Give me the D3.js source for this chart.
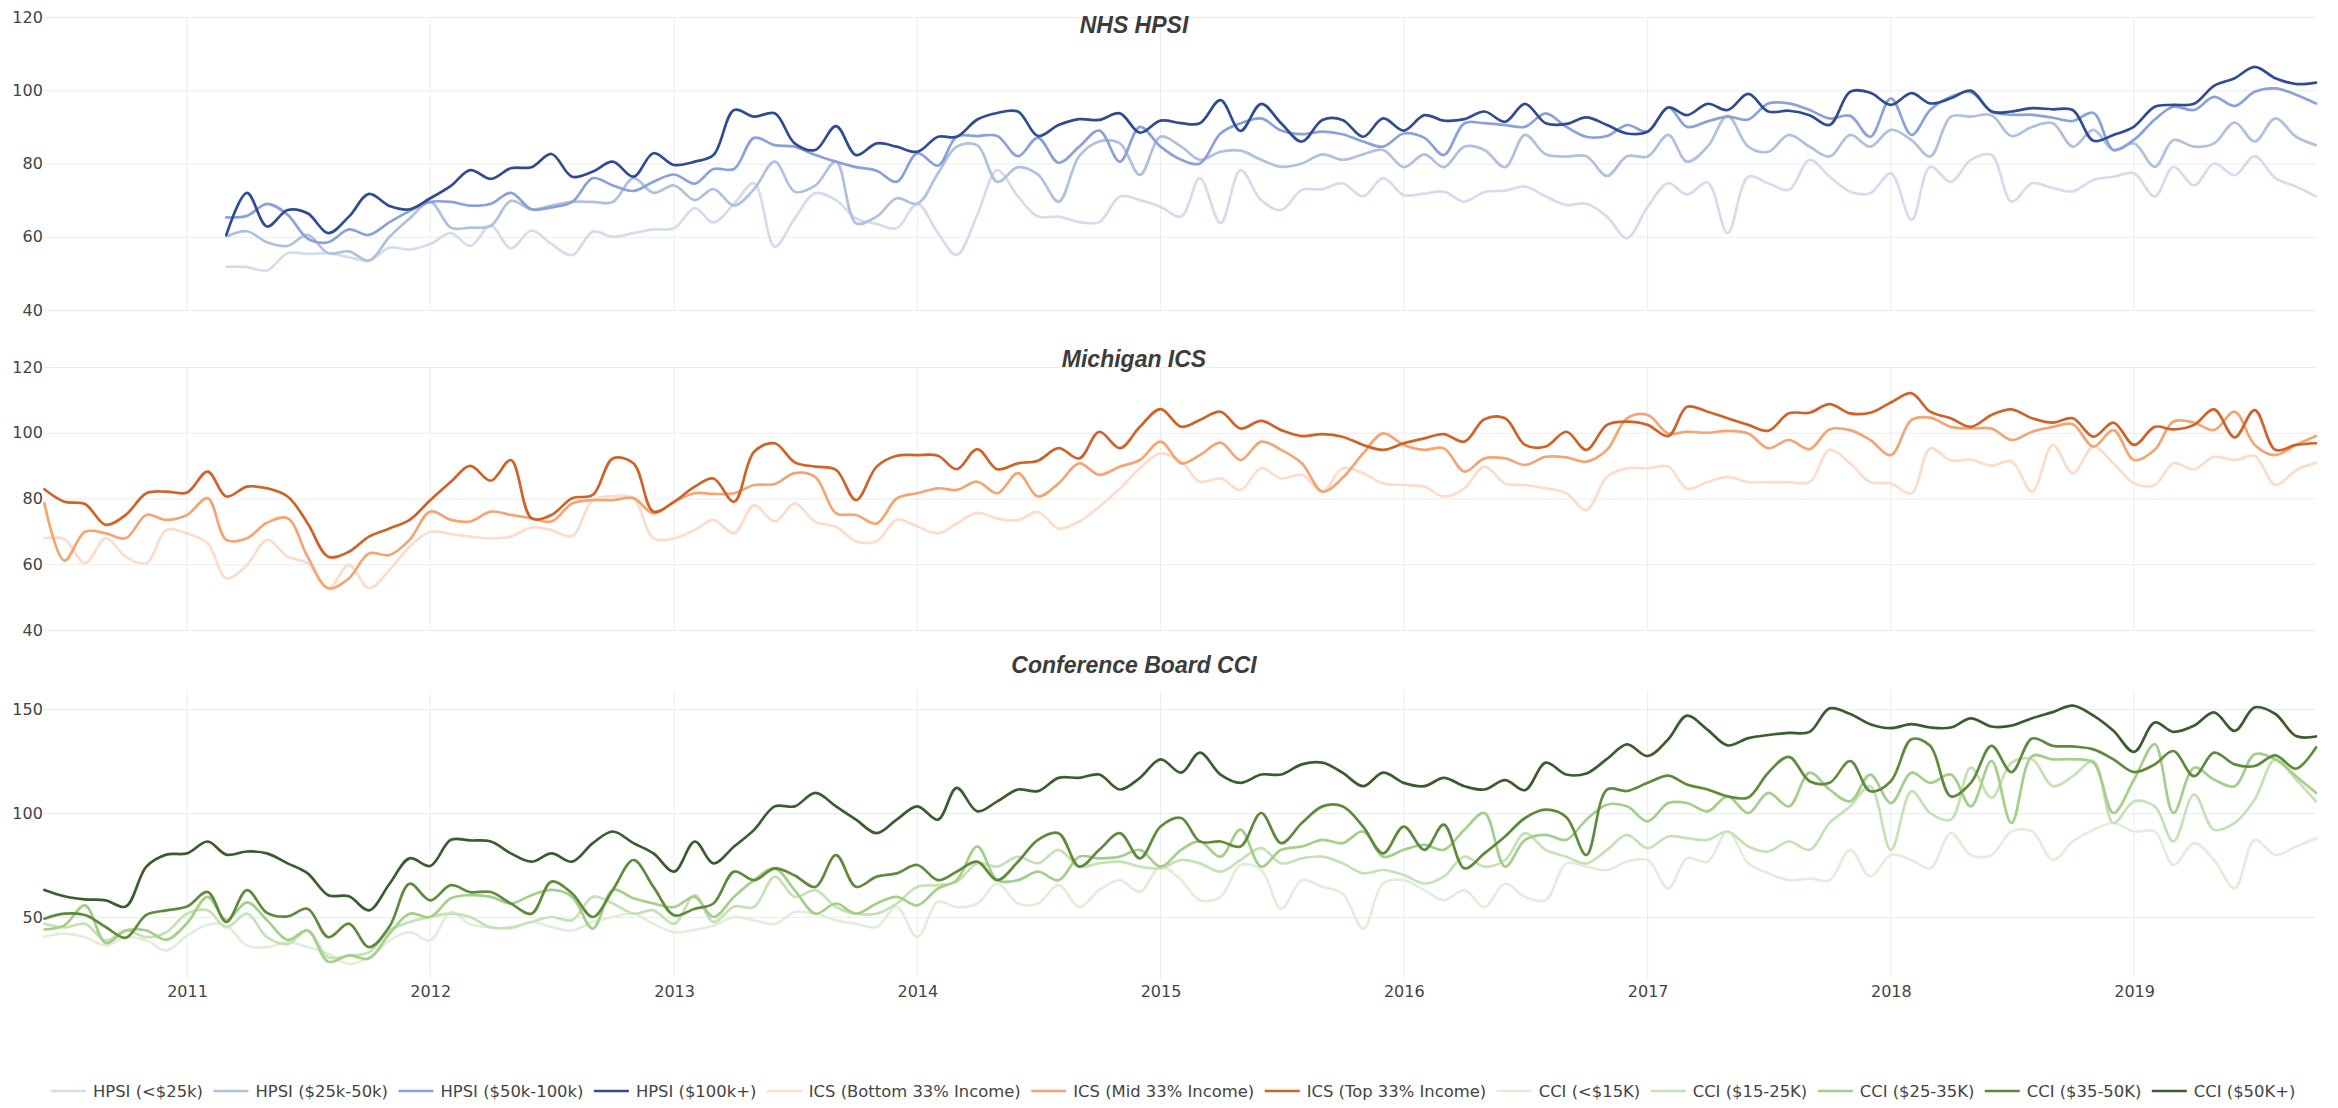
<!DOCTYPE html>
<html><head><meta charset="utf-8">
<script src="https://cdn.jsdelivr.net/npm/d3@7"></script>
<style>body{margin:0;background:#fff}svg{display:block}</style>
</head><body>
<svg id="c" width="2338" height="1108"></svg>
<script>
// ---------- categories ----------
const firstMonth = new Date(2010, 5, 1);   // Jun 2010
const lastMonth  = new Date(2019, 9, 1);   // Oct 2019
const hpsiFirst  = new Date(2011, 2, 1);   // Mar 2011
const yearTicks = [2011,2012,2013,2014,2015,2016,2017,2018,2019];
const hpsiTicks = [40,60,80,100,120];
const icsTicks  = [40,60,80,100,120];
const cciTicks  = [50,100,150];
const panelTitles = ["NHS HPSI","Michigan ICS","Conference Board CCI"];

// ---------- HPSI (Mar 2011 - Oct 2019) ----------
const hpsiLow = [51.8,51.7,50.8,55.5,55.3,55.5,54.4,53.5,57,56.5,
 58,61,57.5,63,56.8,61.7,58,55,61.4,60,
 61,62,62.3,67.8,63.9,69,74.6,57.3,65,71.9,
 70,65,63.5,62.3,69,61,55,66,78.2,71,
 65.5,65.5,64,64,71,70,68.2,65.5,76,63.7,
 78.2,70,67.3,72.8,73,74.6,71,76,71.4,71.8,
 72.3,69.6,72.2,72.6,73.7,71,68.7,69,65.5,59.6,
 68.2,74.6,71.5,74.8,61,76.4,74.6,72.8,81,76.4,
 72.3,71.9,77.3,64.6,79.1,75,81,82.3,69.6,74.6,
 73.3,72.4,75.5,76.4,77.3,71,79.1,74,80,76.8,
 82,76,73.7,71];
const hpsi25 = [60,61.5,58.5,57.5,60.5,55.5,56,53.5,60,65,
 69.5,62.5,62.5,63,69.8,67.5,68.5,69.5,69.5,69.5,
 76,72,74,70,73,68.5,73,80.5,72.3,74,
 80.5,63.7,65.5,70.5,69,77.3,84.6,85,75,79,
 77,69.6,82,86,85.5,76.9,87.3,84.6,81,83.2,
 83.5,81,79.1,80,82.5,81,82.5,83.7,79,82.5,
 79,84.6,83.7,79,87.8,82.5,81.9,82,76.6,82,
 81.9,87.8,80.5,84.6,93,84.6,83.2,87.8,84.6,81.9,
 87.8,84.6,89.2,86.4,81.9,92.8,92.8,93.2,87.5,90,
 91,84.6,89.2,83.7,85.5,79.1,86.4,84.6,85.5,91.2,
 86,92.3,87.3,85];
const hpsi50 = [65.3,65.7,69,66,59.5,58.5,62,60.5,64,67,
 69.5,69.5,68.5,69,72,67.5,68,69.5,76,74,
 72.5,75,77,74.5,78.5,78.5,87,85,84.6,82.3,
 80.5,79,78,75,82.8,79.4,87.3,87.5,87.5,82,
 87,80.2,84.6,89,80.5,90,84.6,81,80,88.2,
 91,92.3,89,88,88.7,88,86,84.6,88.2,87,
 82.3,91,91,90.5,90,93.7,90,87.3,87.5,90.5,
 88.7,95.3,90,91.5,92.8,92,96.4,96.4,94.6,92.3,
 93,87.3,97.8,87.8,94.6,98.2,99.5,94.2,93.3,93.3,
 92.5,91.6,93.8,83.7,86.5,92,95.5,94.6,98.2,95.7,
 99.6,100.5,98.8,96.4];
const hpsi100 = [60.5,72,62.8,67.3,66.4,61,65.5,71.7,68.4,67.5,
 70.5,73.9,78.2,75.8,78.7,79,82.6,76.4,77.8,80.5,
 76.4,82.8,79.6,80.5,82.3,94.6,92.8,93.7,85.5,83.7,
 90.2,82.3,85.5,84.6,83.2,87.3,87.3,92,93.8,94.2,
 87.5,90.5,92.1,91.9,93.7,88.4,91.7,91,91,97.3,
 88.9,96.3,91,86,91.9,91.9,87.3,92.3,89,93.2,
 91.7,92.1,94.2,91.4,96.3,91,90.8,92.6,90.5,88.2,
 88.7,95.3,93.2,96.3,94.6,99,94.2,94.4,93.2,90.5,
 99.6,99.3,96,99.2,96.4,97.8,99.9,94.2,94.2,95.1,
 94.8,94.6,86.2,87.8,90.1,95.5,96,96.3,101.2,103.3,
 106.4,103.3,101.7,102.1];

// ---------- ICS (Jun 2010 - Oct 2019) ----------
const icsBottom = [67.9,67.6,60.3,67.9,62.3,60.3,70.4,69.4,66.4,55.7,
 59.8,67.4,62.3,60.3,52.7,59.8,52.7,58.3,65.3,69.9,
 69.2,68.4,67.9,68.4,71.2,70.4,68.6,79.5,80.7,80.1,
 67.9,67.9,70.4,73.5,69.4,78,73,78.5,72.9,71.4,
 67,67,73.5,71.5,69.4,72.4,75.6,73.9,73.4,75.9,
 70.9,73,77.5,83,89.2,93.7,91.2,85.1,86.1,82.6,
 89.2,86.1,87.2,82.1,89.2,87.7,84.6,84.1,83.6,80.6,
 83.1,89.7,84.6,84.1,83.1,81.6,76.5,86.6,89.2,89.2,
 89.7,83,85,86.6,85,85,85,85,94.8,90.7,
 85,84.6,81.6,95.3,91.6,91.8,90,91.3,82.1,96.3,
 87.7,95.8,90.7,84.6,84.1,90.7,88.9,92.7,91.7,92.9,
 84.1,88.6,90.9];
const icsMid = [78.5,61.1,69.9,69.4,67.9,75,73.5,75,80.1,67.4,
 67.9,72.6,74,62.3,52.7,55.7,63.3,62.8,67.4,76,
 73.5,73,76,75,74,73,78.5,79.5,79.5,80.1,
 75.5,79,81.6,81.4,81.6,84.1,84.4,87.7,86.5,75.5,
 75,72.4,80,81.6,83.1,82.6,85.1,81.6,87.7,80.6,
 84.6,90.7,87.2,89.7,91.7,97.3,90.7,93.2,97,91.7,
 97.3,94.8,90.7,82.1,86.2,93.7,99.8,96.3,94.8,95.3,
 88.2,92.2,92.2,90.2,92.7,92.5,91.2,94.8,104.4,105.4,
 99.8,100.3,100,100.6,99.8,95.3,97.8,95,101,100.8,
 97.8,93.2,103.9,104.6,101.8,101.3,101.3,97.8,100.3,101.8,
 102.6,95.8,100.8,91.7,94.8,103.4,103.1,100.8,106.4,96.3,
 93.2,96.3,99];
const icsTop = [82.8,79,78.3,72,75,81.6,82.1,81.8,88.2,80.6,
 83.6,83.1,80.6,72.5,62.3,63.8,68.4,70.9,73.5,79.5,
 85.1,89.9,85.4,91.7,74,75,80.1,81.1,92.2,90.7,
 76,79,83.6,86.1,79,94.2,96.8,91,89.7,88.7,
 79.5,89.7,93,93.2,93,88.9,95,88.9,90.7,91.5,
 95.3,92.2,100.3,95.3,101.8,107.2,101.8,103.9,106.4,101.3,
 103.6,100.8,99,99.6,98.8,96.3,94.8,96.8,98.3,99.6,
 97.3,104.1,104.4,96.3,95.8,100.3,94.8,102.4,103.4,102.4,
 99,107.9,106.4,104.4,102.4,100.6,105.9,106.1,108.7,105.9,
 106.1,109.2,112,106.4,104.4,101.8,105.4,107.1,104.4,103.1,
 104.4,98.8,103.1,96.3,101.8,101,102.4,107.1,98.6,106.9,
 94.8,96.3,96.8];

// ---------- CCI (Jun 2010 - Oct 2019) ----------
const cci15 = [40.6,42,40.3,36.3,40.3,38.7,33.9,41,46.3,45.8,
 36.3,35.5,37.9,35.5,32.3,27.4,30.6,38.7,42.7,38.7,
 52.4,46.5,45.2,44.4,47.6,45.2,43.5,47.6,50,51.6,
 46.7,42.7,43.8,45.8,50,48.4,46.7,52.4,51.6,48.4,
 46.8,45.2,54.8,40.3,57.3,54.8,56.5,66.1,56.5,56.5,
 65.3,54.8,62.9,67.7,62.1,74.2,67.7,58.1,59.7,75,
 72.6,54,67.7,64.5,61.3,44.4,66.1,67.7,62.9,58.1,
 62.9,54.8,66.1,59.7,58.1,75.8,74.2,72.6,76.6,77.4,
 63.7,78.2,76.6,91.1,75.8,71,67.7,68.5,67.7,82.3,
 69.4,79.8,77.4,73.4,90.3,79.8,79.8,91.1,91.1,77.4,
 86.3,91.9,95.2,91.1,91.1,75,85.5,77.4,63.7,87.1,
 79.8,83.9,87.9];
const cci1525 = [46.7,45,46.7,38.7,43.5,40.3,42.7,51.6,53.2,45,
 51.6,40.3,37,43.5,30.6,31.5,33,43.5,47.6,50,
 51.6,50,45,45,47.6,50,48.5,59.7,56.5,51.6,
 53.2,46.7,60.5,47.6,55,54.8,69.4,59.7,62.9,54.8,
 51.6,51.6,56.5,64.5,65.3,66.9,75.8,74.2,79,75.8,
 82.3,74.2,75.8,76.6,74.2,73.4,77.4,75.8,71.8,77.4,
 83.1,75.8,78.2,79,75.8,71,72.6,70.2,66.1,69.4,
 79,74.2,77.4,90.3,82.3,79,75.8,82.3,89.5,83.1,
 88.7,87.9,87.1,91.1,83.9,81.5,86.3,82.3,95.2,103.2,
 112.9,82.3,110.5,100,96.8,121.8,107.3,124.2,125.8,112.9,
 117.7,125,95.2,105.6,103.2,86.3,108.9,92,95.2,106.5,
 125.8,116.1,105.6];
const cci2535 = [44,46,55.6,37.5,43.5,43.5,39,47,59.7,48.5,
 57,48.5,39,43.5,28.5,31.5,30,42,51.6,50,
 59,60.5,59.7,56.5,60.5,63,59.7,44.4,63,59,
 56.5,54.8,59.7,50,59.7,67.7,73.4,62.9,51.6,56.5,
 51.6,56.5,59.7,55.6,63.7,67.7,83.9,67.7,67.7,71.8,
 67.7,79,78.2,79,82.3,74.2,82.3,86.3,79,92,
 74.2,82.3,83.9,87.1,85.5,91.1,79,82.3,84.7,82.3,
 92,100,74.2,87.1,89.5,87.1,96.8,104,103.2,96,
 104.8,104.8,100.8,108,100,109.7,103.2,119.4,111.3,105.6,
 118.5,104.8,119.4,114.5,118.5,103.2,125,95.2,127.4,125.8,
 125.8,124.2,100,116.1,133.1,100,121.8,116.1,112.9,128.2,
 125.8,117.7,109.7];
const cci3550 = [49.2,51.6,51,45.2,40,51,53.2,55,62,47.6,
 62.9,52,50.3,54,40.3,46.8,35.5,45.5,66,58,
 65.3,62,62,56.5,51.6,67,61.3,50,63,77.4,
 64.5,50.8,54,56.5,71.8,67.7,73.4,70,64.5,79.8,
 64.5,69.4,71,75,67.7,71.8,76.6,67.7,76.6,87.1,
 90.3,74.2,82.3,90.3,78.2,93.5,97.6,86.3,86.3,83.9,
 100,85.5,95.2,103.2,103.2,93.5,80.6,93.5,82.3,94.4,
 73.4,80.6,88.7,97.6,101.6,98,79.8,111.3,110.6,114.5,
 118,113.7,111.3,108,107.5,119.4,127,115.3,114.5,125,
 110.5,115.3,135.5,132.3,108,114.5,132.3,119.7,135.8,132.3,
 132,130.6,125.8,119.7,123.4,129.8,117.7,129,123.4,122.6,
 127.7,121.3,131.5];
const cci50 = [63,60,58.5,58,55,74.2,80,80.6,86.3,80,
 81.5,80.6,75.8,71,60.5,60,53.2,66,78.2,74.5,
 87.1,86.8,86.3,80.6,76.6,80.6,76.6,85.5,91.1,85.5,
 80.6,71.8,86.3,75.8,83.9,91.9,103.2,103.2,109.7,103.2,
 96.8,90.3,96.8,103.2,96.8,112.1,100.8,105.6,111.3,110.5,
 116.9,116.9,118.5,111.3,116.9,125.8,119.4,129,118.5,114.5,
 118.5,118.5,123.4,124.2,119.4,112.9,119.4,114.5,112.9,116.9,
 112.9,111.3,115.8,111,124.2,118.5,119,126,133,127.4,
 135.5,146.8,140,132.5,136,137.5,138.5,139,150.3,147.6,
 142.7,140.8,142.7,141.1,141.1,145.5,141.6,142,145.6,148.5,
 151.6,146.8,139.5,129.4,143.5,139,142,148.4,139.5,150.8,
 147.6,137,136.8];

// ---------- series definitions ----------
const months = d3.timeMonth.range(firstMonth, d3.timeMonth.offset(lastMonth, 1));
const hpsiMonths = d3.timeMonth.range(hpsiFirst, d3.timeMonth.offset(lastMonth, 1));

const seriesNames = ["HPSI (<$25k)","HPSI ($25k-50k)","HPSI ($50k-100k)","HPSI ($100k+)",
  "ICS (Bottom 33% Income)","ICS (Mid 33% Income)","ICS (Top 33% Income)",
  "CCI (<$15K)","CCI ($15-25K)","CCI ($25-35K)","CCI ($35-50K)","CCI ($50K+)"];
const seriesValues = [hpsiLow,hpsi25,hpsi50,hpsi100,icsBottom,icsMid,icsTop,cci15,cci1525,cci2535,cci3550,cci50];
const seriesPanel = [0,0,0,0,1,1,1,2,2,2,2,2];
const seriesColors = ["#d5dcee","#b0c0de","#8ba2d8","#2f4c92",
  "#fcdccb","#f3a574","#cf6227",
  "#e2eedb","#c6e1b6","#a4cf8b","#5d8b3b","#3b5c2f"];

// ---------- layout ----------
const svg = d3.select("#c");
const x = d3.scaleTime().domain([firstMonth, lastMonth]).range([44.4, 2316]);
const panels = [
  {domain:[40,120], range:[310,17],   ticks:hpsiTicks, titleY:33},
  {domain:[40,120], range:[630,367],  ticks:icsTicks,  titleY:367},
  {domain:[20,159], range:[979.4,690.3], ticks:cciTicks, titleY:672.5}
];
const font = "'DejaVu Sans', Verdana, sans-serif";
const gridColor = "#ececec";

panels.forEach((p, i) => {
  p.y = d3.scaleLinear().domain(p.domain).range(p.range);
  const g = svg.append("g");
  g.selectAll("line.vg").data(yearTicks).enter().append("line")
    .attr("x1", d => x(new Date(d,0,1))).attr("x2", d => x(new Date(d,0,1)))
    .attr("y1", p.range[0]).attr("y2", p.range[1])
    .attr("stroke", gridColor).attr("stroke-width", 1);
  const yAxis = d3.axisLeft(p.y).tickValues(p.ticks).tickSize(-(x.range()[1]-x.range()[0])).tickPadding(2);
  const ag = g.append("g").attr("transform", `translate(${x.range()[0]},0)`).call(yAxis);
  ag.select(".domain").remove();
  ag.selectAll(".tick line").attr("stroke", gridColor);
  ag.selectAll(".tick text").attr("font-family", font).attr("font-size", 16).attr("fill", "#444").attr("x", -1.5);
  svg.append("text").attr("x", 1134).attr("y", p.titleY).attr("text-anchor", "middle")
    .attr("font-family", "'Liberation Sans', Arial, sans-serif").attr("font-weight", "bold")
    .attr("font-style", "italic").attr("font-size", 23).attr("fill", "#3c3c3c").text(panelTitles[i]);
});

const xAxis = d3.axisBottom(x).tickValues(yearTicks.map(d => new Date(d,0,1))).tickFormat(d3.timeFormat("%Y")).tickSize(0).tickPadding(0);
const xg = svg.append("g").attr("transform", `translate(0,980)`).call(xAxis);
xg.select(".domain").remove();
xg.selectAll(".tick text").attr("font-family", font).attr("font-size", 16).attr("fill", "#444").attr("dy", 0).attr("y", 17);

seriesValues.forEach((vals, i) => {
  const p = panels[seriesPanel[i]];
  const dates = seriesPanel[i] === 0 ? hpsiMonths : months;
  const data = vals.map((v, k) => ({d: dates[k], v}));
  const line = d3.line().x(d => x(d.d)).y(d => p.y(d.v)).curve(d3.curveCatmullRom.alpha(0.5));
  svg.append("path").datum(data).attr("d", line).attr("fill", "none")
    .attr("stroke", seriesColors[i]).attr("stroke-width", 2.7)
    .attr("stroke-linejoin", "round").attr("stroke-linecap", "round");
});

// legend
const lg = svg.append("g").attr("transform", "translate(0,1091)");
let cursor = 51;
seriesNames.forEach((name, i) => {
  const item = lg.append("g");
  item.append("line").attr("x1", cursor).attr("x2", cursor + 35).attr("y1", 0).attr("y2", 0)
    .attr("stroke", seriesColors[i]).attr("stroke-width", 2.7);
  const t = item.append("text").attr("x", cursor + 42).attr("y", 5.7)
    .attr("font-family", font).attr("font-size", 16.4).attr("fill", "#444").text(name);
  cursor += 42 + t.node().getComputedTextLength() + 10.5;
});
</script>
</body></html>
